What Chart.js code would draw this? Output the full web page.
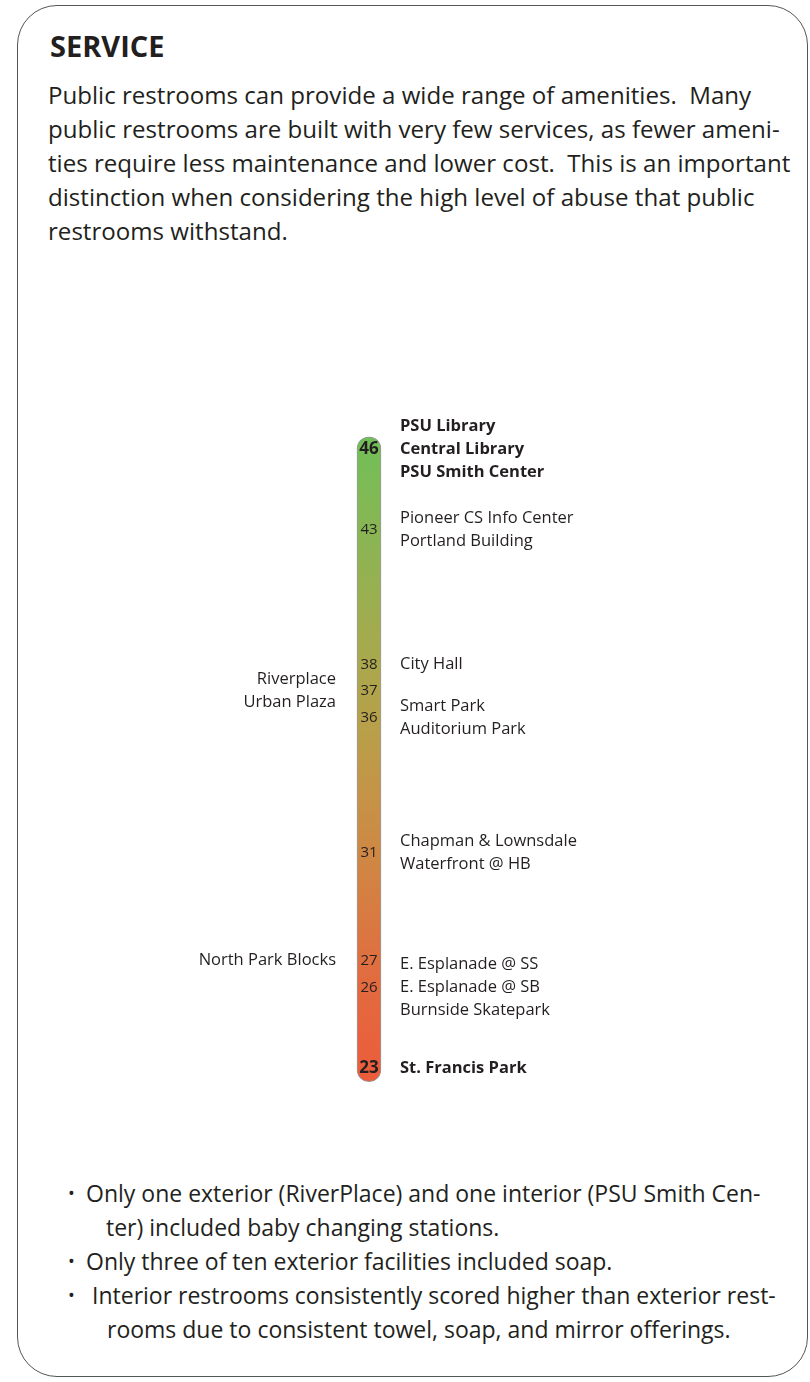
<!DOCTYPE html>
<html>
<head>
<meta charset="utf-8">
<script src="https://cdn.jsdelivr.net/npm/chart.js@4/dist/chart.umd.min.js"></script>
<style>
  body { margin: 0; background: #fff; width: 810px; height: 1382px; position: relative; overflow: hidden;
         font-family: "Open Sans", sans-serif; color: #231f20; }
  .box { position: absolute; left: 17px; top: 5px; width: 791px; height: 1372px;
         border: 1.3px solid #555; border-radius: 40px; box-sizing: border-box; }
  h1 { position: absolute; left: 50px; top: 28px; margin: 0; font-size: 29px; font-weight: 700; line-height: 36px; }
  .para { position: absolute; left: 48px; top: 78px; font-size: 24.1px; line-height: 34px; white-space: nowrap; }
  .bullets { position: absolute; left: 68px; top: 1176px; font-size: 23px; line-height: 34px; white-space: nowrap; }
  .bullets div { position: relative; }
  .dot { position: absolute; left: 0; font-size: 18px; }
  #chartWrap { position: absolute; left: 19px; top: 395px; width: 700px; height: 727px; }
</style>
</head>
<body>
<div class="box"></div>
<h1>SERVICE</h1>
<div class="para">
  Public restrooms can provide a wide range of amenities.&nbsp; Many<br>
  public restrooms are built with very few services, as fewer ameni-<br>
  ties require less maintenance and lower cost.&nbsp; This is an important<br>
  distinction when considering the high level of abuse that public<br>
  restrooms withstand.
</div>
<div id="chartWrap"><canvas id="chartService"></canvas></div>
<div class="bullets">
  <div><span class="dot">•</span><span style="padding-left:18px">Only one exterior (RiverPlace) and one interior (PSU Smith Cen-</span></div>
  <div><span style="padding-left:38px">ter) included baby changing stations.</span></div>
  <div><span class="dot">•</span><span style="padding-left:18px">Only three of ten exterior facilities included soap.</span></div>
  <div><span class="dot">•</span><span style="padding-left:24px">Interior restrooms consistently scored higher than exterior rest-</span></div>
  <div><span style="padding-left:39px">rooms due to consistent towel, soap, and mirror offerings.</span></div>
</div>
<script>
let scores = [46, 43, 38, 37, 36, 31, 27, 26, 23];
let places = [
  ["PSU Library", "Central Library", "PSU Smith Center"],
  ["Pioneer CS Info Center", "Portland Building"],
  ["City Hall"],
  ["Riverplace", "Urban Plaza"],
  ["Smart Park", "Auditorium Park"],
  ["Chapman & Lownsdale", "Waterfront @ HB"],
  ["North Park Blocks"],
  ["E. Esplanade @ SS", "E. Esplanade @ SB", "Burnside Skatepark"],
  ["St. Francis Park"]
];
let sides = ["right", "right", "right", "left", "right", "right", "left", "right", "right"];

let topScore = Math.max(...scores);
let lowScore = Math.min(...scores);

function barGradient(context) {
    const chart = context.chart;
    if (!chart.chartArea) return '#b5a04a';
    const y = chart.scales.y;
    const g = chart.ctx.createLinearGradient(0, y.getPixelForValue(topScore + 0.5), 0, y.getPixelForValue(lowScore - 0.5));
    g.addColorStop(0, '#70bf58');
    g.addColorStop(0.3, '#a2ac4f');
    g.addColorStop(0.45, '#b8a04a');
    g.addColorStop(0.65, '#cf8844');
    g.addColorStop(0.85, '#e26a3f');
    g.addColorStop(1, '#ec5c3b');
    return g;
}

const labelPlugin = {
    id: 'scoreLabels',
    afterDatasetsDraw(chart) {
        const ctx = chart.ctx;
        const y = chart.scales.y;
        const bar = chart.getDatasetMeta(0).data[0];
        const bx = bar.x;
        ctx.save();
        ctx.fillStyle = '#231f20';
        ctx.textBaseline = 'middle';
        for (let i = 0; i < scores.length; i++) {
            const py = y.getPixelForValue(scores[i]);
            const bold = (scores[i] === topScore || scores[i] === lowScore);
            ctx.textAlign = 'center';
            ctx.font = bold ? 'bold 17px "Open Sans"' : '15px "Open Sans"';
            ctx.fillText(String(scores[i]), bx, py);
            ctx.font = bold ? 'bold 16.5px "Open Sans"' : '16.5px "Open Sans"';
            const lines = places[i];
            const lh = 23;
            const start = py - (lines.length - 1) * lh / 2;
            for (let j = 0; j < lines.length; j++) {
                if (sides[i] === 'right') {
                    ctx.textAlign = 'left';
                    ctx.fillText(lines[j], bx + 31, start + j * lh);
                } else {
                    ctx.textAlign = 'right';
                    ctx.fillText(lines[j], bx - 33, start + j * lh);
                }
            }
        }
        ctx.restore();
    }
};

const ctx = document.getElementById('chartService').getContext('2d');

const data = {
    labels: ['Service'],
    datasets: [{
        label: 'Service score',
        data: [[lowScore - 0.5, topScore + 0.45]],
        backgroundColor: barGradient,
        borderColor: '#9a9a9a',
        borderWidth: 1,
        borderSkipped: false,
        borderRadius: 12,
        barThickness: 24
    }]
};

const config = {
    type: 'bar',
    data: data,
    options: {
        responsive: true,
        maintainAspectRatio: false,
        animation: false,
        layout: { padding: 0 },
        scales: {
            x: { display: false },
            y: { display: false, min: 21, max: 48 }
        },
        plugins: {
            legend: { display: false },
            tooltip: { enabled: false }
        }
    },
    plugins: [labelPlugin]
};

new Chart(ctx, config);
</script>
</body>
</html>
